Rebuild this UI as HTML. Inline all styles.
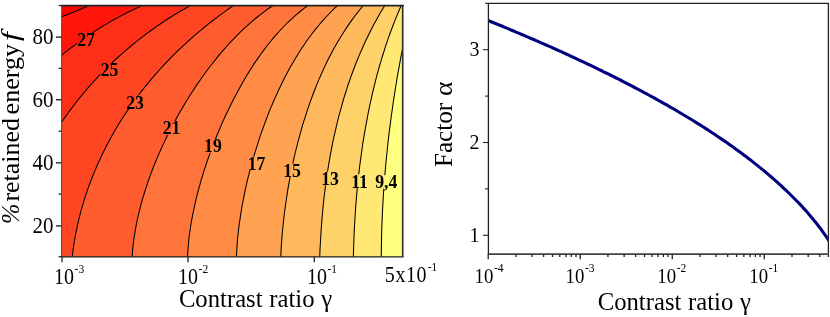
<!DOCTYPE html>
<html><head><meta charset="utf-8"><style>
html,body{margin:0;padding:0;background:#fff}
svg{display:block}
text{font-family:"Liberation Serif",serif;fill:#000}
</style></head><body>
<svg width="830" height="317" viewBox="0 0 830 317">
<rect width="830" height="317" fill="#fff"/>
<g style="isolation:isolate" opacity="0.999">
<defs><clipPath id="cl"><rect x="61.6" y="5.6" width="341.3" height="251.1"/></clipPath>
<mask id="mk" maskUnits="userSpaceOnUse" x="0" y="0" width="830" height="317"><rect x="0" y="0" width="830" height="317" fill="#fff"/>
<rect x="77.1" y="32.8" width="18" height="13.5" fill="#000"/>
<rect x="100.6" y="63.0" width="18" height="13.5" fill="#000"/>
<rect x="126.0" y="95.5" width="18" height="13.5" fill="#000"/>
<rect x="162.6" y="121.2" width="18" height="13.5" fill="#000"/>
<rect x="203.9" y="139.2" width="18" height="13.5" fill="#000"/>
<rect x="247.6" y="156.6" width="18" height="13.5" fill="#000"/>
<rect x="283.1" y="163.6" width="18" height="13.5" fill="#000"/>
<rect x="321.0" y="171.8" width="18" height="13.5" fill="#000"/>
<rect x="350.6" y="174.3" width="18" height="13.5" fill="#000"/>
<rect x="373.7" y="175.1" width="25" height="13.5" fill="#000"/>
</mask></defs>
<g clip-path="url(#cl)">
<rect x="61.6" y="5.6" width="341.3" height="251.1" fill="rgb(255,0,0)"/>
<polygon points="56.4,18.7 62.0,16.6 62.5,16.4 62.9,16.3 63.4,16.1 63.9,15.9 64.3,15.7 64.8,15.5 65.2,15.4 65.7,15.2 66.2,15.0 66.6,14.8 67.1,14.7 67.5,14.5 68.0,14.3 68.5,14.1 68.9,13.9 69.4,13.8 69.9,13.6 70.3,13.4 70.8,13.2 71.2,13.0 71.7,12.8 72.2,12.7 72.6,12.5 73.1,12.3 73.5,12.1 74.0,11.9 74.4,11.7 74.9,11.5 75.4,11.4 75.8,11.2 76.3,11.0 76.7,10.8 77.2,10.6 77.6,10.4 78.1,10.2 78.6,10.0 79.0,9.8 79.5,9.6 79.9,9.5 80.4,9.3 80.8,9.1 81.3,8.9 81.7,8.7 82.2,8.5 82.7,8.3 83.1,8.1 83.6,7.9 84.0,7.7 84.5,7.5 84.9,7.3 85.4,7.1 85.8,6.9 86.3,6.7 86.7,6.5 87.2,6.3 87.6,6.1 88.1,5.9 88.5,5.7 89.0,5.5 94.5,3.0 94.5,-44.4 452.9,-44.4 452.9,306.7 11.6,306.7 11.6,18.7" fill="rgb(255,23,12)"/>
<polygon points="57.3,58.5 62.0,54.8 63.3,53.8 64.5,52.8 65.8,51.8 67.1,50.9 68.3,49.9 69.6,48.9 70.9,47.9 72.2,47.0 73.5,46.0 74.8,45.1 76.1,44.1 77.3,43.2 78.7,42.2 80.0,41.3 81.3,40.4 82.6,39.4 83.9,38.5 85.2,37.6 86.5,36.7 87.9,35.8 89.2,34.9 90.5,34.0 91.9,33.1 93.2,32.2 94.5,31.4 95.9,30.5 97.2,29.6 98.6,28.8 100.0,27.9 101.3,27.1 102.7,26.2 104.0,25.4 105.4,24.6 106.8,23.8 108.2,22.9 109.6,22.1 111.0,21.3 112.3,20.5 113.7,19.8 115.1,19.0 116.5,18.2 118.0,17.4 119.4,16.7 120.8,15.9 122.2,15.2 123.6,14.4 125.1,13.7 126.5,13.0 127.9,12.3 129.4,11.6 130.8,10.8 132.3,10.2 133.7,9.5 135.2,8.8 136.6,8.1 138.1,7.4 139.6,6.8 141.0,6.1 142.5,5.5 148.0,3.1 148.0,-44.4 452.9,-44.4 452.9,306.7 11.6,306.7 11.6,58.5" fill="rgb(255,46,23)"/>
<polygon points="58.6,126.5 62.0,121.5 63.7,119.1 65.4,116.6 67.2,114.2 68.9,111.8 70.7,109.4 72.5,107.1 74.3,104.7 76.1,102.4 77.9,100.0 79.8,97.7 81.7,95.4 83.6,93.2 85.5,90.9 87.4,88.7 89.3,86.4 91.3,84.2 93.3,82.0 95.3,79.9 97.3,77.7 99.3,75.6 101.4,73.4 103.4,71.3 105.5,69.2 107.6,67.2 109.7,65.1 111.8,63.1 113.9,61.0 116.1,59.0 118.3,57.0 120.5,55.1 122.7,53.1 124.9,51.2 127.1,49.3 129.4,47.4 131.6,45.5 133.9,43.6 136.2,41.7 138.5,39.9 140.8,38.1 143.2,36.3 145.5,34.5 147.9,32.8 150.3,31.0 152.7,29.3 155.1,27.6 157.5,25.9 159.9,24.2 162.4,22.5 164.8,20.9 167.3,19.3 169.8,17.7 172.3,16.1 174.8,14.5 177.4,13.0 179.9,11.5 182.5,10.0 185.0,8.5 187.6,7.0 190.2,5.5 195.5,2.6 195.5,-44.4 452.9,-44.4 452.9,306.7 11.6,306.7 11.6,126.5" fill="rgb(255,70,35)"/>
<polygon points="71.5,262.4 72.3,256.5 72.9,251.4 73.6,246.2 74.4,241.1 75.3,236.0 76.3,230.9 77.4,225.8 78.5,220.7 79.8,215.7 81.1,210.6 82.5,205.6 84.0,200.6 85.6,195.6 87.3,190.7 89.0,185.7 90.9,180.8 92.8,176.0 94.7,171.1 96.8,166.3 98.9,161.5 101.1,156.8 103.4,152.1 105.7,147.4 108.1,142.8 110.6,138.2 113.2,133.6 115.8,129.1 118.5,124.6 121.2,120.2 124.0,115.8 126.9,111.5 129.8,107.1 132.8,102.9 135.9,98.7 139.0,94.5 142.2,90.4 145.4,86.3 148.7,82.3 152.0,78.3 155.4,74.4 158.9,70.5 162.4,66.6 165.9,62.8 169.5,59.1 173.2,55.4 176.9,51.7 180.7,48.1 184.5,44.6 188.3,41.1 192.2,37.6 196.1,34.2 200.1,30.8 204.1,27.5 208.2,24.2 212.3,21.0 216.4,17.8 220.6,14.7 224.9,11.6 229.1,8.5 233.4,5.5 238.3,2.1 238.3,-44.4 452.9,-44.4 452.9,306.7 71.5,306.7" fill="rgb(255,93,47)"/>
<polygon points="131.6,262.5 132.1,256.5 132.5,251.4 133.0,246.4 133.6,241.3 134.3,236.4 135.1,231.4 136.0,226.4 136.9,221.5 138.0,216.6 139.1,211.8 140.4,206.9 141.6,202.1 143.0,197.3 144.5,192.5 146.0,187.8 147.6,183.0 149.2,178.3 150.9,173.6 152.7,169.0 154.5,164.3 156.4,159.7 158.4,155.1 160.4,150.5 162.5,145.9 164.6,141.4 166.8,136.8 169.0,132.3 171.3,127.9 173.7,123.4 176.1,119.0 178.5,114.6 181.0,110.2 183.5,105.9 186.1,101.5 188.8,97.3 191.5,93.0 194.2,88.8 197.0,84.6 199.9,80.4 202.8,76.3 205.7,72.3 208.7,68.2 211.8,64.2 214.9,60.3 218.0,56.4 221.2,52.6 224.5,48.8 227.8,45.0 231.2,41.4 234.7,37.8 238.2,34.2 241.8,30.7 245.4,27.3 249.2,23.9 252.9,20.7 256.8,17.5 260.7,14.3 264.7,11.3 268.8,8.3 273.0,5.5 277.9,2.1 277.9,-44.4 452.9,-44.4 452.9,306.7 131.6,306.7" fill="rgb(255,116,58)"/>
<polygon points="187.2,262.5 187.5,256.5 187.8,251.6 188.2,246.7 188.6,241.9 189.1,237.0 189.8,232.2 190.5,227.4 191.2,222.7 192.1,217.9 193.0,213.2 194.0,208.5 195.0,203.8 196.1,199.1 197.3,194.4 198.5,189.7 199.8,185.1 201.1,180.4 202.5,175.8 203.9,171.2 205.4,166.6 206.9,162.0 208.5,157.5 210.2,152.9 211.9,148.4 213.6,143.8 215.4,139.3 217.2,134.8 219.1,130.3 221.0,125.9 222.9,121.4 224.9,117.0 227.0,112.6 229.1,108.2 231.2,103.9 233.4,99.5 235.7,95.2 238.0,90.9 240.3,86.7 242.7,82.5 245.1,78.3 247.6,74.1 250.2,70.0 252.8,65.9 255.4,61.9 258.2,57.9 261.0,54.0 263.8,50.1 266.7,46.2 269.7,42.5 272.8,38.7 275.9,35.1 279.1,31.5 282.4,28.0 285.8,24.5 289.2,21.1 292.8,17.8 296.4,14.6 300.1,11.5 304.0,8.4 307.9,5.5 312.7,1.9 312.7,-44.4 452.9,-44.4 452.9,306.7 187.2,306.7" fill="rgb(255,139,70)"/>
<polygon points="236.2,262.5 236.5,256.5 236.7,251.8 237.0,247.1 237.3,242.4 237.7,237.8 238.2,233.1 238.7,228.4 239.3,223.8 240.0,219.2 240.7,214.6 241.4,209.9 242.2,205.3 243.1,200.7 244.0,196.2 244.9,191.6 245.9,187.0 246.9,182.4 248.0,177.9 249.2,173.3 250.3,168.8 251.6,164.3 252.8,159.8 254.1,155.3 255.5,150.8 256.9,146.3 258.3,141.8 259.8,137.4 261.3,132.9 262.9,128.5 264.5,124.1 266.1,119.7 267.8,115.3 269.5,110.9 271.3,106.6 273.2,102.2 275.0,97.9 277.0,93.7 278.9,89.4 280.9,85.2 283.0,81.0 285.1,76.8 287.3,72.7 289.5,68.5 291.8,64.5 294.2,60.4 296.6,56.4 299.0,52.5 301.6,48.5 304.2,44.7 306.8,40.8 309.6,37.0 312.4,33.3 315.2,29.6 318.2,26.0 321.2,22.4 324.3,18.9 327.5,15.5 330.8,12.1 334.1,8.7 337.6,5.5 342.0,1.4 342.0,-44.4 452.9,-44.4 452.9,306.7 236.2,306.7" fill="rgb(255,162,81)"/>
<polygon points="280.5,262.5 280.8,256.5 281.0,251.9 281.2,247.4 281.5,242.9 281.9,238.3 282.2,233.8 282.7,229.3 283.1,224.7 283.6,220.2 284.1,215.7 284.7,211.2 285.3,206.7 285.9,202.2 286.6,197.7 287.3,193.2 288.0,188.7 288.8,184.2 289.6,179.7 290.4,175.3 291.3,170.8 292.2,166.3 293.2,161.9 294.2,157.4 295.2,153.0 296.3,148.5 297.4,144.1 298.6,139.7 299.7,135.3 301.0,130.9 302.2,126.5 303.5,122.2 304.9,117.8 306.3,113.5 307.7,109.2 309.2,104.8 310.7,100.6 312.3,96.3 313.9,92.0 315.5,87.8 317.2,83.6 319.0,79.4 320.8,75.2 322.7,71.1 324.6,66.9 326.5,62.8 328.5,58.8 330.6,54.7 332.7,50.7 334.9,46.7 337.2,42.8 339.5,38.9 341.9,35.0 344.3,31.2 346.8,27.4 349.4,23.6 352.0,19.9 354.7,16.2 357.5,12.6 360.4,9.0 363.3,5.5 367.1,0.9 367.1,-44.4 452.9,-44.4 452.9,306.7 280.5,306.7" fill="rgb(255,185,93)"/>
<polygon points="319.5,262.5 319.8,256.5 319.9,252.1 320.1,247.6 320.4,243.2 320.6,238.8 320.9,234.3 321.1,229.9 321.5,225.5 321.8,221.1 322.2,216.6 322.6,212.2 323.0,207.8 323.4,203.4 323.9,198.9 324.4,194.5 325.0,190.1 325.5,185.7 326.1,181.3 326.7,176.9 327.4,172.5 328.1,168.1 328.8,163.7 329.6,159.3 330.3,154.9 331.2,150.6 332.0,146.2 332.9,141.8 333.8,137.5 334.8,133.1 335.8,128.8 336.8,124.5 337.8,120.2 338.9,115.9 340.1,111.6 341.3,107.3 342.5,103.0 343.7,98.7 345.0,94.5 346.4,90.3 347.7,86.0 349.2,81.8 350.6,77.6 352.1,73.5 353.7,69.3 355.2,65.2 356.9,61.0 358.6,56.9 360.3,52.8 362.1,48.8 363.9,44.7 365.7,40.7 367.7,36.7 369.6,32.7 371.6,28.7 373.7,24.8 375.8,20.9 378.0,17.0 380.2,13.1 382.5,9.3 384.8,5.5 387.9,0.4 387.9,-44.4 452.9,-44.4 452.9,306.7 319.5,306.7" fill="rgb(255,209,105)"/>
<polygon points="353.2,262.5 353.4,256.5 353.5,252.1 353.6,247.8 353.8,243.4 353.9,239.1 354.1,234.7 354.3,230.4 354.5,226.0 354.8,221.7 355.0,217.3 355.3,213.0 355.6,208.6 355.9,204.3 356.3,199.9 356.6,195.6 357.0,191.3 357.4,186.9 357.9,182.6 358.3,178.3 358.8,173.9 359.3,169.6 359.8,165.3 360.4,160.9 361.0,156.6 361.6,152.3 362.2,148.0 362.8,143.7 363.5,139.4 364.2,135.1 364.9,130.8 365.7,126.5 366.5,122.2 367.3,117.9 368.1,113.6 369.0,109.3 369.8,105.1 370.8,100.8 371.7,96.6 372.7,92.3 373.7,88.1 374.8,83.8 375.8,79.6 376.9,75.4 378.1,71.2 379.2,67.0 380.5,62.8 381.7,58.7 383.0,54.5 384.3,50.3 385.6,46.2 387.0,42.1 388.4,37.9 389.9,33.8 391.4,29.7 392.9,25.7 394.5,21.6 396.1,17.6 397.8,13.5 399.5,9.5 401.2,5.5 403.6,-0.0 403.6,-44.4 452.9,-44.4 452.9,306.7 353.2,306.7" fill="rgb(255,232,116)"/>
<polygon points="381.3,262.5 381.3,256.5 381.3,253.0 381.4,249.5 381.4,246.0 381.5,242.5 381.5,239.0 381.6,235.5 381.7,231.9 381.8,228.4 381.9,224.9 382.1,221.4 382.2,217.9 382.4,214.4 382.5,210.9 382.7,207.4 382.9,203.9 383.1,200.4 383.3,196.9 383.5,193.4 383.8,189.9 384.0,186.4 384.3,182.9 384.5,179.4 384.8,175.9 385.1,172.4 385.4,168.9 385.7,165.5 386.0,162.0 386.4,158.5 386.7,155.0 387.1,151.5 387.4,148.0 387.8,144.5 388.2,141.0 388.6,137.6 389.0,134.1 389.4,130.6 389.9,127.1 390.3,123.6 390.8,120.2 391.2,116.7 391.7,113.2 392.2,109.8 392.7,106.3 393.2,102.8 393.7,99.4 394.3,95.9 394.8,92.4 395.3,89.0 395.9,85.5 396.5,82.0 397.0,78.6 397.6,75.1 398.2,71.7 398.9,68.2 399.5,64.8 400.1,61.3 400.7,57.9 401.4,54.5 402.1,51.0 403.2,45.1 452.9,45.1 452.9,-44.4 452.9,306.7 381.3,306.7" fill="rgb(255,255,128)"/>
<g fill="none" stroke="#000" stroke-width="1.05" mask="url(#mk)"><polyline points="56.4,18.7 62.0,16.6 62.5,16.4 62.9,16.3 63.4,16.1 63.9,15.9 64.3,15.7 64.8,15.5 65.2,15.4 65.7,15.2 66.2,15.0 66.6,14.8 67.1,14.7 67.5,14.5 68.0,14.3 68.5,14.1 68.9,13.9 69.4,13.8 69.9,13.6 70.3,13.4 70.8,13.2 71.2,13.0 71.7,12.8 72.2,12.7 72.6,12.5 73.1,12.3 73.5,12.1 74.0,11.9 74.4,11.7 74.9,11.5 75.4,11.4 75.8,11.2 76.3,11.0 76.7,10.8 77.2,10.6 77.6,10.4 78.1,10.2 78.6,10.0 79.0,9.8 79.5,9.6 79.9,9.5 80.4,9.3 80.8,9.1 81.3,8.9 81.7,8.7 82.2,8.5 82.7,8.3 83.1,8.1 83.6,7.9 84.0,7.7 84.5,7.5 84.9,7.3 85.4,7.1 85.8,6.9 86.3,6.7 86.7,6.5 87.2,6.3 87.6,6.1 88.1,5.9 88.5,5.7 89.0,5.5 94.5,3.0"/><polyline points="57.3,58.5 62.0,54.8 63.3,53.8 64.5,52.8 65.8,51.8 67.1,50.9 68.3,49.9 69.6,48.9 70.9,47.9 72.2,47.0 73.5,46.0 74.8,45.1 76.1,44.1 77.3,43.2 78.7,42.2 80.0,41.3 81.3,40.4 82.6,39.4 83.9,38.5 85.2,37.6 86.5,36.7 87.9,35.8 89.2,34.9 90.5,34.0 91.9,33.1 93.2,32.2 94.5,31.4 95.9,30.5 97.2,29.6 98.6,28.8 100.0,27.9 101.3,27.1 102.7,26.2 104.0,25.4 105.4,24.6 106.8,23.8 108.2,22.9 109.6,22.1 111.0,21.3 112.3,20.5 113.7,19.8 115.1,19.0 116.5,18.2 118.0,17.4 119.4,16.7 120.8,15.9 122.2,15.2 123.6,14.4 125.1,13.7 126.5,13.0 127.9,12.3 129.4,11.6 130.8,10.8 132.3,10.2 133.7,9.5 135.2,8.8 136.6,8.1 138.1,7.4 139.6,6.8 141.0,6.1 142.5,5.5 148.0,3.1"/><polyline points="58.6,126.5 62.0,121.5 63.7,119.1 65.4,116.6 67.2,114.2 68.9,111.8 70.7,109.4 72.5,107.1 74.3,104.7 76.1,102.4 77.9,100.0 79.8,97.7 81.7,95.4 83.6,93.2 85.5,90.9 87.4,88.7 89.3,86.4 91.3,84.2 93.3,82.0 95.3,79.9 97.3,77.7 99.3,75.6 101.4,73.4 103.4,71.3 105.5,69.2 107.6,67.2 109.7,65.1 111.8,63.1 113.9,61.0 116.1,59.0 118.3,57.0 120.5,55.1 122.7,53.1 124.9,51.2 127.1,49.3 129.4,47.4 131.6,45.5 133.9,43.6 136.2,41.7 138.5,39.9 140.8,38.1 143.2,36.3 145.5,34.5 147.9,32.8 150.3,31.0 152.7,29.3 155.1,27.6 157.5,25.9 159.9,24.2 162.4,22.5 164.8,20.9 167.3,19.3 169.8,17.7 172.3,16.1 174.8,14.5 177.4,13.0 179.9,11.5 182.5,10.0 185.0,8.5 187.6,7.0 190.2,5.5 195.5,2.6"/><polyline points="71.5,262.4 72.3,256.5 72.9,251.4 73.6,246.2 74.4,241.1 75.3,236.0 76.3,230.9 77.4,225.8 78.5,220.7 79.8,215.7 81.1,210.6 82.5,205.6 84.0,200.6 85.6,195.6 87.3,190.7 89.0,185.7 90.9,180.8 92.8,176.0 94.7,171.1 96.8,166.3 98.9,161.5 101.1,156.8 103.4,152.1 105.7,147.4 108.1,142.8 110.6,138.2 113.2,133.6 115.8,129.1 118.5,124.6 121.2,120.2 124.0,115.8 126.9,111.5 129.8,107.1 132.8,102.9 135.9,98.7 139.0,94.5 142.2,90.4 145.4,86.3 148.7,82.3 152.0,78.3 155.4,74.4 158.9,70.5 162.4,66.6 165.9,62.8 169.5,59.1 173.2,55.4 176.9,51.7 180.7,48.1 184.5,44.6 188.3,41.1 192.2,37.6 196.1,34.2 200.1,30.8 204.1,27.5 208.2,24.2 212.3,21.0 216.4,17.8 220.6,14.7 224.9,11.6 229.1,8.5 233.4,5.5 238.3,2.1"/><polyline points="131.6,262.5 132.1,256.5 132.5,251.4 133.0,246.4 133.6,241.3 134.3,236.4 135.1,231.4 136.0,226.4 136.9,221.5 138.0,216.6 139.1,211.8 140.4,206.9 141.6,202.1 143.0,197.3 144.5,192.5 146.0,187.8 147.6,183.0 149.2,178.3 150.9,173.6 152.7,169.0 154.5,164.3 156.4,159.7 158.4,155.1 160.4,150.5 162.5,145.9 164.6,141.4 166.8,136.8 169.0,132.3 171.3,127.9 173.7,123.4 176.1,119.0 178.5,114.6 181.0,110.2 183.5,105.9 186.1,101.5 188.8,97.3 191.5,93.0 194.2,88.8 197.0,84.6 199.9,80.4 202.8,76.3 205.7,72.3 208.7,68.2 211.8,64.2 214.9,60.3 218.0,56.4 221.2,52.6 224.5,48.8 227.8,45.0 231.2,41.4 234.7,37.8 238.2,34.2 241.8,30.7 245.4,27.3 249.2,23.9 252.9,20.7 256.8,17.5 260.7,14.3 264.7,11.3 268.8,8.3 273.0,5.5 277.9,2.1"/><polyline points="187.2,262.5 187.5,256.5 187.8,251.6 188.2,246.7 188.6,241.9 189.1,237.0 189.8,232.2 190.5,227.4 191.2,222.7 192.1,217.9 193.0,213.2 194.0,208.5 195.0,203.8 196.1,199.1 197.3,194.4 198.5,189.7 199.8,185.1 201.1,180.4 202.5,175.8 203.9,171.2 205.4,166.6 206.9,162.0 208.5,157.5 210.2,152.9 211.9,148.4 213.6,143.8 215.4,139.3 217.2,134.8 219.1,130.3 221.0,125.9 222.9,121.4 224.9,117.0 227.0,112.6 229.1,108.2 231.2,103.9 233.4,99.5 235.7,95.2 238.0,90.9 240.3,86.7 242.7,82.5 245.1,78.3 247.6,74.1 250.2,70.0 252.8,65.9 255.4,61.9 258.2,57.9 261.0,54.0 263.8,50.1 266.7,46.2 269.7,42.5 272.8,38.7 275.9,35.1 279.1,31.5 282.4,28.0 285.8,24.5 289.2,21.1 292.8,17.8 296.4,14.6 300.1,11.5 304.0,8.4 307.9,5.5 312.7,1.9"/><polyline points="236.2,262.5 236.5,256.5 236.7,251.8 237.0,247.1 237.3,242.4 237.7,237.8 238.2,233.1 238.7,228.4 239.3,223.8 240.0,219.2 240.7,214.6 241.4,209.9 242.2,205.3 243.1,200.7 244.0,196.2 244.9,191.6 245.9,187.0 246.9,182.4 248.0,177.9 249.2,173.3 250.3,168.8 251.6,164.3 252.8,159.8 254.1,155.3 255.5,150.8 256.9,146.3 258.3,141.8 259.8,137.4 261.3,132.9 262.9,128.5 264.5,124.1 266.1,119.7 267.8,115.3 269.5,110.9 271.3,106.6 273.2,102.2 275.0,97.9 277.0,93.7 278.9,89.4 280.9,85.2 283.0,81.0 285.1,76.8 287.3,72.7 289.5,68.5 291.8,64.5 294.2,60.4 296.6,56.4 299.0,52.5 301.6,48.5 304.2,44.7 306.8,40.8 309.6,37.0 312.4,33.3 315.2,29.6 318.2,26.0 321.2,22.4 324.3,18.9 327.5,15.5 330.8,12.1 334.1,8.7 337.6,5.5 342.0,1.4"/><polyline points="280.5,262.5 280.8,256.5 281.0,251.9 281.2,247.4 281.5,242.9 281.9,238.3 282.2,233.8 282.7,229.3 283.1,224.7 283.6,220.2 284.1,215.7 284.7,211.2 285.3,206.7 285.9,202.2 286.6,197.7 287.3,193.2 288.0,188.7 288.8,184.2 289.6,179.7 290.4,175.3 291.3,170.8 292.2,166.3 293.2,161.9 294.2,157.4 295.2,153.0 296.3,148.5 297.4,144.1 298.6,139.7 299.7,135.3 301.0,130.9 302.2,126.5 303.5,122.2 304.9,117.8 306.3,113.5 307.7,109.2 309.2,104.8 310.7,100.6 312.3,96.3 313.9,92.0 315.5,87.8 317.2,83.6 319.0,79.4 320.8,75.2 322.7,71.1 324.6,66.9 326.5,62.8 328.5,58.8 330.6,54.7 332.7,50.7 334.9,46.7 337.2,42.8 339.5,38.9 341.9,35.0 344.3,31.2 346.8,27.4 349.4,23.6 352.0,19.9 354.7,16.2 357.5,12.6 360.4,9.0 363.3,5.5 367.1,0.9"/><polyline points="319.5,262.5 319.8,256.5 319.9,252.1 320.1,247.6 320.4,243.2 320.6,238.8 320.9,234.3 321.1,229.9 321.5,225.5 321.8,221.1 322.2,216.6 322.6,212.2 323.0,207.8 323.4,203.4 323.9,198.9 324.4,194.5 325.0,190.1 325.5,185.7 326.1,181.3 326.7,176.9 327.4,172.5 328.1,168.1 328.8,163.7 329.6,159.3 330.3,154.9 331.2,150.6 332.0,146.2 332.9,141.8 333.8,137.5 334.8,133.1 335.8,128.8 336.8,124.5 337.8,120.2 338.9,115.9 340.1,111.6 341.3,107.3 342.5,103.0 343.7,98.7 345.0,94.5 346.4,90.3 347.7,86.0 349.2,81.8 350.6,77.6 352.1,73.5 353.7,69.3 355.2,65.2 356.9,61.0 358.6,56.9 360.3,52.8 362.1,48.8 363.9,44.7 365.7,40.7 367.7,36.7 369.6,32.7 371.6,28.7 373.7,24.8 375.8,20.9 378.0,17.0 380.2,13.1 382.5,9.3 384.8,5.5 387.9,0.4"/><polyline points="353.2,262.5 353.4,256.5 353.5,252.1 353.6,247.8 353.8,243.4 353.9,239.1 354.1,234.7 354.3,230.4 354.5,226.0 354.8,221.7 355.0,217.3 355.3,213.0 355.6,208.6 355.9,204.3 356.3,199.9 356.6,195.6 357.0,191.3 357.4,186.9 357.9,182.6 358.3,178.3 358.8,173.9 359.3,169.6 359.8,165.3 360.4,160.9 361.0,156.6 361.6,152.3 362.2,148.0 362.8,143.7 363.5,139.4 364.2,135.1 364.9,130.8 365.7,126.5 366.5,122.2 367.3,117.9 368.1,113.6 369.0,109.3 369.8,105.1 370.8,100.8 371.7,96.6 372.7,92.3 373.7,88.1 374.8,83.8 375.8,79.6 376.9,75.4 378.1,71.2 379.2,67.0 380.5,62.8 381.7,58.7 383.0,54.5 384.3,50.3 385.6,46.2 387.0,42.1 388.4,37.9 389.9,33.8 391.4,29.7 392.9,25.7 394.5,21.6 396.1,17.6 397.8,13.5 399.5,9.5 401.2,5.5 403.6,-0.0"/><polyline points="381.3,262.5 381.3,256.5 381.3,253.0 381.4,249.5 381.4,246.0 381.5,242.5 381.5,239.0 381.6,235.5 381.7,231.9 381.8,228.4 381.9,224.9 382.1,221.4 382.2,217.9 382.4,214.4 382.5,210.9 382.7,207.4 382.9,203.9 383.1,200.4 383.3,196.9 383.5,193.4 383.8,189.9 384.0,186.4 384.3,182.9 384.5,179.4 384.8,175.9 385.1,172.4 385.4,168.9 385.7,165.5 386.0,162.0 386.4,158.5 386.7,155.0 387.1,151.5 387.4,148.0 387.8,144.5 388.2,141.0 388.6,137.6 389.0,134.1 389.4,130.6 389.9,127.1 390.3,123.6 390.8,120.2 391.2,116.7 391.7,113.2 392.2,109.8 392.7,106.3 393.2,102.8 393.7,99.4 394.3,95.9 394.8,92.4 395.3,89.0 395.9,85.5 396.5,82.0 397.0,78.6 397.6,75.1 398.2,71.7 398.9,68.2 399.5,64.8 400.1,61.3 400.7,57.9 401.4,54.5 402.1,51.0 403.2,45.1"/></g>
</g>
<line x1="61.10" y1="5.60" x2="403.90" y2="5.60" stroke="#222" stroke-width="1.7"/>
<line x1="61.60" y1="5.60" x2="61.60" y2="256.70" stroke="#555" stroke-width="1.1"/>
<line x1="61.10" y1="256.85" x2="403.70" y2="256.85" stroke="#222" stroke-width="1.4"/>
<line x1="402.70" y1="5.60" x2="402.70" y2="256.70" stroke="#333" stroke-width="1.7"/>
<line x1="55.90" y1="37.15" x2="61.60" y2="37.15" stroke="#333" stroke-width="1.5"/>
<line x1="55.90" y1="99.76" x2="61.60" y2="99.76" stroke="#333" stroke-width="1.5"/>
<line x1="55.90" y1="162.80" x2="61.60" y2="162.80" stroke="#333" stroke-width="1.5"/>
<line x1="55.90" y1="225.90" x2="61.60" y2="225.90" stroke="#333" stroke-width="1.5"/>
<line x1="58.60" y1="5.60" x2="61.60" y2="5.60" stroke="#333" stroke-width="1.4"/>
<line x1="58.60" y1="68.31" x2="61.60" y2="68.31" stroke="#333" stroke-width="1.4"/>
<line x1="58.60" y1="131.21" x2="61.60" y2="131.21" stroke="#333" stroke-width="1.4"/>
<line x1="58.60" y1="194.11" x2="61.60" y2="194.11" stroke="#333" stroke-width="1.4"/>
<line x1="58.60" y1="256.70" x2="61.60" y2="256.70" stroke="#333" stroke-width="1.4"/>
<line x1="62.00" y1="256.70" x2="62.00" y2="262.20" stroke="#333" stroke-width="1.4"/>
<line x1="188.00" y1="256.70" x2="188.00" y2="262.20" stroke="#333" stroke-width="1.4"/>
<line x1="314.30" y1="256.70" x2="314.30" y2="262.20" stroke="#333" stroke-width="1.4"/>
<text transform="translate(53.50,44.05) scale(1,1.09)" font-size="21" text-anchor="end" >80</text>
<text transform="translate(53.50,106.66) scale(1,1.09)" font-size="21" text-anchor="end" >60</text>
<text transform="translate(53.50,169.70) scale(1,1.09)" font-size="21" text-anchor="end" >40</text>
<text transform="translate(53.50,232.80) scale(1,1.09)" font-size="21" text-anchor="end" >20</text>
<text transform="translate(54.10,284.10) scale(1,1.11)" font-size="20" letter-spacing="0">10<tspan font-size="11.5" dy="-9.8" dx="0.5" letter-spacing="0">-3</tspan></text>
<text transform="translate(178.10,284.10) scale(1,1.11)" font-size="20" letter-spacing="0">10<tspan font-size="11.5" dy="-9.8" dx="0.5" letter-spacing="0">-2</tspan></text>
<text transform="translate(307.00,284.10) scale(1,1.11)" font-size="20" letter-spacing="0">10<tspan font-size="11.5" dy="-9.8" dx="0.5" letter-spacing="0">-1</tspan></text>
<text transform="translate(384.80,282.30) scale(1,1.11)" font-size="20" letter-spacing="0.6">5x10<tspan font-size="11.5" dy="-9.8" dx="0.5" letter-spacing="0">-1</tspan></text>
<text transform="translate(178.90,307.00) scale(1,1)" font-size="24.7" text-anchor="start" word-spacing="0.5">Contrast ratio γ</text>
<text transform="translate(18.7,224.0) rotate(-90) scale(1,1)" font-size="24.5"><tspan font-style="italic">%</tspan></text>
<text transform="translate(18.7,201.6) rotate(-90) scale(1.058,1)" font-size="24.5">retained</text>
<text transform="translate(18.7,114.4) rotate(-90) scale(1.063,1)" font-size="24.5">energy</text>
<text transform="translate(18.7,41.2) rotate(-90) scale(1.35,1)" font-size="24.5"><tspan font-style="italic">f</tspan></text>
<text transform="translate(86.1,45.9) scale(1,1.09)" font-size="17.7" font-weight="bold" text-anchor="middle">27</text>
<text transform="translate(109.6,76.2) scale(1,1.09)" font-size="17.7" font-weight="bold" text-anchor="middle">25</text>
<text transform="translate(135.0,108.7) scale(1,1.09)" font-size="17.7" font-weight="bold" text-anchor="middle">23</text>
<text transform="translate(171.6,134.3) scale(1,1.09)" font-size="17.7" font-weight="bold" text-anchor="middle">21</text>
<text transform="translate(212.9,152.3) scale(1,1.09)" font-size="17.7" font-weight="bold" text-anchor="middle">19</text>
<text transform="translate(256.6,169.7) scale(1,1.09)" font-size="17.7" font-weight="bold" text-anchor="middle">17</text>
<text transform="translate(292.1,176.7) scale(1,1.09)" font-size="17.7" font-weight="bold" text-anchor="middle">15</text>
<text transform="translate(330.0,184.9) scale(1,1.09)" font-size="17.7" font-weight="bold" text-anchor="middle">13</text>
<text transform="translate(359.6,187.5) scale(1,1.09)" font-size="17.7" font-weight="bold" text-anchor="middle">11</text>
<text transform="translate(386.2,188.2) scale(1,1.09)" font-size="17.7" font-weight="bold" text-anchor="middle">9,4</text>
<clipPath id="c2"><rect x="488.4" y="3.3" width="340" height="250.9"/></clipPath>
<g clip-path="url(#c2)"><polyline points="483.6,18.7 486.1,19.7 488.6,20.7 491.1,21.7 493.6,22.7 496.1,23.7 498.6,24.8 501.1,25.8 503.6,26.8 506.1,27.9 508.6,28.9 511.1,30.0 513.6,31.0 516.1,32.1 518.6,33.1 521.1,34.2 523.6,35.2 526.1,36.3 528.6,37.4 531.1,38.5 533.6,39.5 536.1,40.6 538.6,41.7 541.1,42.8 543.6,43.9 546.1,45.0 548.7,46.1 551.2,47.2 553.7,48.3 556.2,49.5 558.7,50.6 561.2,51.7 563.7,52.9 566.2,54.0 568.7,55.1 571.2,56.3 573.7,57.5 576.2,58.6 578.7,59.8 581.2,61.0 583.7,62.1 586.2,63.3 588.7,64.5 591.2,65.7 593.7,66.9 596.2,68.1 598.7,69.3 601.2,70.5 603.7,71.8 606.2,73.0 608.7,74.2 611.2,75.5 613.7,76.7 616.2,78.0 618.7,79.2 621.2,80.5 623.7,81.8 626.2,83.1 628.7,84.4 631.2,85.7 633.7,87.0 636.2,88.3 638.7,89.6 641.2,90.9 643.7,92.3 646.2,93.6 648.7,95.0 651.2,96.4 653.7,97.7 656.2,99.1 658.7,100.5 661.2,101.9 663.7,103.3 666.2,104.7 668.7,106.2 671.2,107.6 673.8,109.0 676.3,110.5 678.8,112.0 681.3,113.5 683.8,115.0 686.3,116.5 688.8,118.0 691.3,119.5 693.8,121.0 696.3,122.6 698.8,124.2 701.3,125.7 703.8,127.3 706.3,128.9 708.8,130.5 711.3,132.2 713.8,133.8 716.3,135.5 718.8,137.2 721.3,138.9 723.8,140.6 726.3,142.3 728.8,144.1 731.3,145.8 733.8,147.6 736.3,149.4 738.8,151.2 741.3,153.1 743.8,154.9 746.3,156.8 748.8,158.7 751.3,160.6 753.8,162.6 756.3,164.6 758.8,166.6 761.3,168.6 763.8,170.6 766.3,172.7 768.8,174.9 771.3,177.0 773.8,179.2 776.3,181.4 778.8,183.6 781.3,185.9 783.8,188.3 786.3,190.6 788.8,193.0 791.3,195.5 793.8,198.0 796.3,200.5 798.9,203.2 801.4,205.8 803.9,208.6 806.4,211.3 808.9,214.2 811.4,217.2 813.9,220.2 816.4,223.3 818.9,226.5 821.4,229.8 823.9,233.3 826.4,236.9 828.9,240.6 831.4,244.5" fill="none" stroke="#000080" stroke-width="3.1" stroke-linejoin="round"/></g>
<line x1="487.90" y1="3.30" x2="829.00" y2="3.30" stroke="#222" stroke-width="1.2"/>
<line x1="488.40" y1="3.30" x2="488.40" y2="254.20" stroke="#222" stroke-width="1.3"/>
<line x1="828.40" y1="3.30" x2="828.40" y2="257.00" stroke="#222" stroke-width="1.3"/>
<line x1="487.80" y1="254.20" x2="829.00" y2="254.20" stroke="#444" stroke-width="1.7"/>
<line x1="482.90" y1="49.70" x2="488.40" y2="49.70" stroke="#222" stroke-width="1.1"/>
<text transform="translate(479.60,56.30) scale(1,1.06)" font-size="20" text-anchor="end" >3</text>
<line x1="482.90" y1="142.50" x2="488.40" y2="142.50" stroke="#222" stroke-width="1.1"/>
<text transform="translate(479.60,149.10) scale(1,1.06)" font-size="20" text-anchor="end" >2</text>
<line x1="482.90" y1="235.30" x2="488.40" y2="235.30" stroke="#222" stroke-width="1.1"/>
<text transform="translate(479.60,241.90) scale(1,1.06)" font-size="20" text-anchor="end" >1</text>
<line x1="485.10" y1="3.30" x2="488.40" y2="3.30" stroke="#222" stroke-width="1.1"/>
<line x1="485.10" y1="96.10" x2="488.40" y2="96.10" stroke="#222" stroke-width="1.1"/>
<line x1="485.10" y1="188.90" x2="488.40" y2="188.90" stroke="#222" stroke-width="1.1"/>
<line x1="488.20" y1="254.20" x2="488.20" y2="259.20" stroke="#222" stroke-width="1.3"/>
<line x1="515.90" y1="254.20" x2="515.90" y2="257.00" stroke="#222" stroke-width="1.3"/>
<line x1="532.11" y1="254.20" x2="532.11" y2="257.00" stroke="#222" stroke-width="1.3"/>
<line x1="543.61" y1="254.20" x2="543.61" y2="257.00" stroke="#222" stroke-width="1.3"/>
<line x1="552.53" y1="254.20" x2="552.53" y2="257.00" stroke="#222" stroke-width="1.3"/>
<line x1="559.81" y1="254.20" x2="559.81" y2="257.00" stroke="#222" stroke-width="1.3"/>
<line x1="565.97" y1="254.20" x2="565.97" y2="257.00" stroke="#222" stroke-width="1.3"/>
<line x1="571.31" y1="254.20" x2="571.31" y2="257.00" stroke="#222" stroke-width="1.3"/>
<line x1="576.02" y1="254.20" x2="576.02" y2="257.00" stroke="#222" stroke-width="1.3"/>
<line x1="580.23" y1="254.20" x2="580.23" y2="259.20" stroke="#222" stroke-width="1.3"/>
<line x1="607.93" y1="254.20" x2="607.93" y2="257.00" stroke="#222" stroke-width="1.3"/>
<line x1="624.14" y1="254.20" x2="624.14" y2="257.00" stroke="#222" stroke-width="1.3"/>
<line x1="635.64" y1="254.20" x2="635.64" y2="257.00" stroke="#222" stroke-width="1.3"/>
<line x1="644.56" y1="254.20" x2="644.56" y2="257.00" stroke="#222" stroke-width="1.3"/>
<line x1="651.84" y1="254.20" x2="651.84" y2="257.00" stroke="#222" stroke-width="1.3"/>
<line x1="658.00" y1="254.20" x2="658.00" y2="257.00" stroke="#222" stroke-width="1.3"/>
<line x1="663.34" y1="254.20" x2="663.34" y2="257.00" stroke="#222" stroke-width="1.3"/>
<line x1="668.05" y1="254.20" x2="668.05" y2="257.00" stroke="#222" stroke-width="1.3"/>
<line x1="672.26" y1="254.20" x2="672.26" y2="259.20" stroke="#222" stroke-width="1.3"/>
<line x1="699.96" y1="254.20" x2="699.96" y2="257.00" stroke="#222" stroke-width="1.3"/>
<line x1="716.17" y1="254.20" x2="716.17" y2="257.00" stroke="#222" stroke-width="1.3"/>
<line x1="727.67" y1="254.20" x2="727.67" y2="257.00" stroke="#222" stroke-width="1.3"/>
<line x1="736.59" y1="254.20" x2="736.59" y2="257.00" stroke="#222" stroke-width="1.3"/>
<line x1="743.87" y1="254.20" x2="743.87" y2="257.00" stroke="#222" stroke-width="1.3"/>
<line x1="750.03" y1="254.20" x2="750.03" y2="257.00" stroke="#222" stroke-width="1.3"/>
<line x1="755.37" y1="254.20" x2="755.37" y2="257.00" stroke="#222" stroke-width="1.3"/>
<line x1="760.08" y1="254.20" x2="760.08" y2="257.00" stroke="#222" stroke-width="1.3"/>
<line x1="764.29" y1="254.20" x2="764.29" y2="259.20" stroke="#222" stroke-width="1.3"/>
<line x1="791.99" y1="254.20" x2="791.99" y2="257.00" stroke="#222" stroke-width="1.3"/>
<line x1="808.20" y1="254.20" x2="808.20" y2="257.00" stroke="#222" stroke-width="1.3"/>
<line x1="819.70" y1="254.20" x2="819.70" y2="257.00" stroke="#222" stroke-width="1.3"/>
<text transform="translate(474.50,283.30) scale(1,1.14)" font-size="18.8">10<tspan font-size="11.5" dy="-10" dx="0.6">-4</tspan></text>
<text transform="translate(565.50,283.30) scale(1,1.14)" font-size="18.8">10<tspan font-size="11.5" dy="-10" dx="0.6">-3</tspan></text>
<text transform="translate(657.30,283.30) scale(1,1.14)" font-size="18.8">10<tspan font-size="11.5" dy="-10" dx="0.6">-2</tspan></text>
<text transform="translate(749.30,283.30) scale(1,1.14)" font-size="18.8">10<tspan font-size="11.5" dy="-10" dx="0.6">-1</tspan></text>
<text transform="translate(597.70,310.30) scale(1,1)" font-size="24.7" text-anchor="start" word-spacing="0.5">Contrast ratio γ</text>
<text transform="translate(451.5,167.1) rotate(-90) scale(1.015,1)" font-size="24.8">Factor</text>
<text transform="translate(451.5,95.9) rotate(-90) scale(1.1,1)" font-size="24.8">α</text>
</g>
</svg></body></html>
